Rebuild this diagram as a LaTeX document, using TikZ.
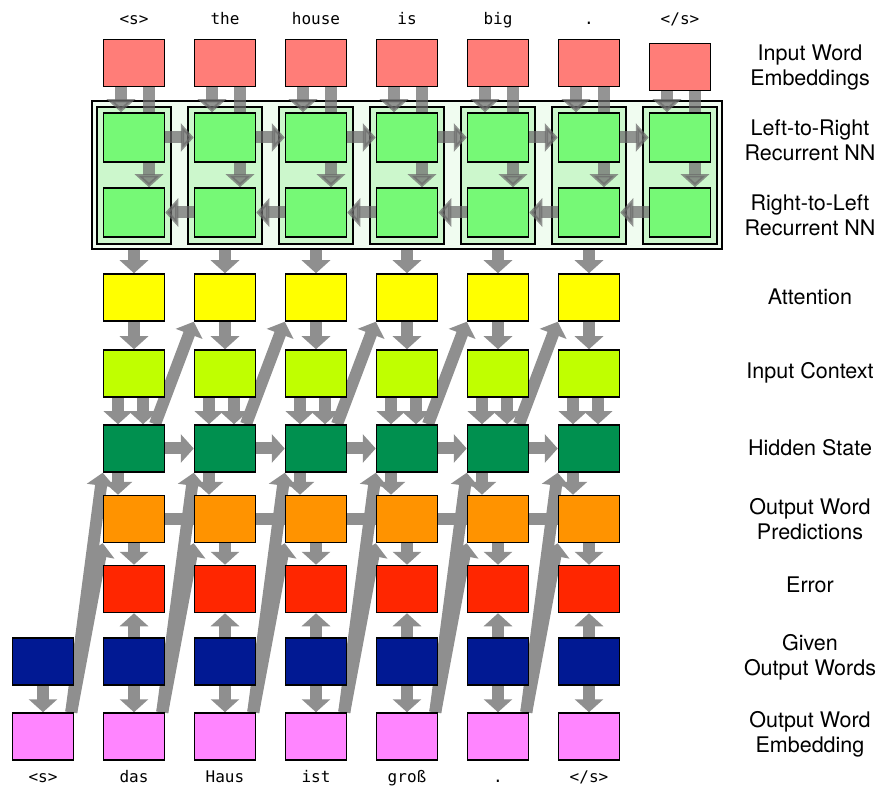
\documentclass[tikz,border=0pt]{standalone}
\usepackage{fontspec}
\setmainfont{TeX Gyre Heros}
\newfontfamily\wordfont{DejaVu Sans Mono}
\usepackage{tikz}
\usetikzlibrary{positioning,arrows.meta}
\pgfdeclarelayer{bg}
\pgfdeclarelayer{mid}
\pgfsetlayers{bg,mid,main}
\definecolor{embred}{HTML}{FF7D78}
\definecolor{rnngreen}{HTML}{76F976}
\definecolor{attyellow}{HTML}{FFFF00}
\definecolor{ctxlime}{HTML}{C0FF00}
\definecolor{hidgreen}{HTML}{00904F}
\definecolor{predorange}{HTML}{FF9300}
\definecolor{errred}{HTML}{FF2600}
\definecolor{outnavy}{HTML}{011993}
\definecolor{oembpink}{HTML}{FF85FF}
\definecolor{arrowgray}{HTML}{8F8F8F}
\definecolor{outerglass}{HTML}{F0FCF0}
\definecolor{innerglass}{HTML}{CCF7CC}

\tikzset{
  unit/.style={draw=black, line width=1.5pt, minimum width=61pt, minimum height=47pt, inner sep=0pt},
  flow/.style={draw=arrowgray, line width=12pt, -{Triangle[width=28pt,length=13pt]}},
  rnnflow/.style={flow, draw=arrowgray!75!black, opacity=0.72},
  link/.style={draw=arrowgray, line width=12pt},
  glass/.style={draw=black, line width=1.3pt, inner sep=0pt},
  word/.style={font=\wordfont\fontsize{16}{18}\selectfont, anchor=base},
  layer/.style={font=\fontsize{21.5}{25}\selectfont, align=center},
}

\begin{document}
\begin{tikzpicture}[x=1pt, y=-1pt]
    \useasboundingbox (0,0) rectangle (879,786);

    % encoder: source words, embeddings, both recurrent directions
    \foreach \i/\w in {1/{<s>}, 2/the, 3/house, 4/is, 5/big, 6/., 7/{</s>}} {
        \pgfmathsetmacro\ey{\i==7 ? 67 : 63}
        \node[word] (src\i) at (43+91*\i, 25) {\w};
        \node[unit, fill=embred] (emb\i) at (43+91*\i, \ey) {};
        \node[unit, fill=rnngreen, minimum height=49pt] (fwd\i) at (43+91*\i, 137.5) {};
        \node[unit, fill=rnngreen, minimum height=49pt] (bwd\i) at (43+91*\i, 212.5) {};
    }

    % decoder
    \foreach \i in {1,...,6} {
        \node[unit, fill=attyellow] (att\i) at (43+91*\i, 297.5) {};
        \node[unit, fill=ctxlime] (ctx\i) at (43+91*\i, 373.5) {};
        \node[unit, fill=hidgreen] (hid\i) at (43+91*\i, 448.5) {};
        \node[unit, fill=predorange] (pred\i) at (43+91*\i, 519) {};
        \node[unit, fill=errred] (err\i) at (43+91*\i, 589) {};
    }
    \foreach \i/\w in {0/{<s>}, 1/das, 2/Haus, 3/ist, 4/groß, 5/., 6/{</s>}} {
        \node[unit, fill=outnavy] (out\i) at (43+91*\i, 661.5) {};
        \node[unit, fill=oembpink] (oemb\i) at (43+91*\i, 736.5) {};
        \node[word] (tgt\i) at (43+91*\i, 782) {\w};
    }

    % frames round the bidirectional network
    \begin{pgfonlayer}{bg}
        \node[glass, fill=outerglass, minimum width=630pt, minimum height=148pt] (rnn) at (407, 175) {};
        \foreach \i in {1,...,7}
            \node[glass, fill=innerglass, minimum width=74pt, minimum height=137pt] (col\i) at (43+91*\i, 175.5) {};
    \end{pgfonlayer}

    \begin{pgfonlayer}{mid}
        \foreach \i in {1,...,7} {
            \draw[rnnflow] ([xshift=-13pt]emb\i.south) -- ([xshift=-13pt]fwd\i.north);
            \draw[rnnflow] ([xshift=15pt]emb\i.south) -- ([xshift=15pt]bwd\i.north);
        }
        \foreach \i [evaluate=\i as \j using int(\i+1)] in {1,...,6} {
            \draw[rnnflow] (fwd\i) -- (fwd\j);
            \draw[rnnflow] (bwd\j) -- (bwd\i);
        }
        \foreach \i in {1,...,6} {
            \draw[flow] (att\i.north |- rnn.south) -- (att\i.north);
            \draw[flow] (att\i) -- (ctx\i);
            \draw[flow] ([xshift=-16pt]ctx\i.south) -- ([xshift=-16pt]hid\i.north);
            \draw[flow] ([xshift=9pt]ctx\i.south) -- ([xshift=9pt]hid\i.north);
            \draw[flow] ([xshift=-16pt]hid\i.south) -- ([xshift=-16pt]pred\i.north);
            \draw[flow] (pred\i) -- (err\i);
            \draw[flow] (out\i) -- (err\i);
        }
        \foreach \i in {0,...,6}
            \draw[flow] (out\i) -- (oemb\i);
        \foreach \i [evaluate=\i as \j using int(\i+1)] in {1,...,5} {
            \draw[flow] (hid\i) -- (hid\j);
            \draw[link] (pred\i) -- (pred\j);
            \draw[flow] ([xshift=21pt]hid\i.north) -- (att\j.south west);
        }
        % previous output word feeds the next step
        \foreach \i [evaluate=\i as \j using int(\i+1)] in {0,...,5} {
            \draw[flow] ([xshift=-3pt]oemb\i.north east) -- (hid\j.south west);
            \draw[flow] ([xshift=-3pt]oemb\i.north east) -- (pred\j.south west);
        }
    \end{pgfonlayer}

    % layer names
    \node[layer] (l-emb) at (810, 67.5) {Input Word\\Embeddings};
    \node[layer] (l-fwd) at (810, 140) {Left-to-Right\\Recurrent NN};
    \node[layer] (l-bwd) at (810, 215.5) {Right-to-Left\\Recurrent NN};
    \node[layer] (l-att) at (810, 297) {Attention};
    \node[layer] (l-ctx) at (810, 373) {Input Context};
    \node[layer] (l-hid) at (810, 448) {Hidden State};
    \node[layer] (l-pred) at (810, 519.5) {Output Word\\Predictions};
    \node[layer] (l-err) at (810, 585) {Error};
    \node[layer] (l-out) at (810, 657.5) {Given\\Output Words};
    \node[layer] (l-oemb) at (810, 734.5) {Output Word\\Embedding};
\end{tikzpicture}
\end{document}
